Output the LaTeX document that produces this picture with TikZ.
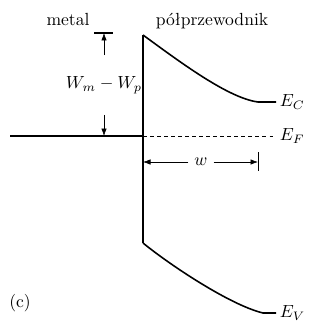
\documentclass[tikz,border=0pt]{standalone}
\usepackage{amsmath}
\usetikzlibrary{arrows.meta}

\begin{document}
\begin{tikzpicture}[x=0.02cm, y=-0.02cm, >={Latex[length=1.5mm, width=1.1mm]},
	band/.style={line width=0.9pt},
	dim/.style={line width=0.4pt},
	lvl/.style={anchor=west, inner sep=2pt}]
	\useasboundingbox (0,0) rectangle (327,321);
	% band edges
	\coordinate (top) at (143,35);
	\coordinate (bot) at (143,243);
	\coordinate (ec) at (276,102);
	\coordinate (ef) at (276,136);
	\coordinate (ev) at (276,313);
	\coordinate (mf) at (10,136);
	\coordinate (jf) at (143,136);
	\draw[band] (mf) -- (jf);
	\draw[band] (top) -- (bot);
	\draw[band] (top) .. controls (180,62) and (228,98) .. (258,102) -- (ec);
	\draw[band] (bot) .. controls (170,265) and (230,305) .. (263,313) -- (ev);
	\draw[dim, dash pattern=on 2pt off 2pt] (jf) -- (ef);
	\node[lvl] (Ec) at (ec) {$E_C$};
	\node[lvl] (Ef) at (ef) {$E_F$};
	\node[lvl] (Ev) at (ev) {$E_V$};
	\node[anchor=base] (metal) at (68,25) {metal};
	\node[anchor=base] (semi) at (212,25) {półprzewodnik};
	% barrier height
	\coordinate (wl) at (94,33);
	\coordinate (wr) at (113,33);
	\coordinate (wt) at (104,33);
	\coordinate (wb) at (104,136);
	\draw[band] (wl) -- (wr);
	\node[inner xsep=2pt, inner ysep=12pt] (dW) at (104,85) {$W_m - W_p$};
	\draw[dim, ->] (dW) -- (wt);
	\draw[dim, ->] (dW) -- (wb);
	% depletion width
	\coordinate (d0) at (143,162);
	\coordinate (d1) at (258,162);
	\draw[dim] (258,152) -- (258,171);
	\node (w) at (201,162) {$w$};
	\draw[dim, ->] (w) -- (d0);
	\draw[dim, ->] (w) -- (d1);
	\node (panel) at (20,303) {(c)};
\end{tikzpicture}
\end{document}
